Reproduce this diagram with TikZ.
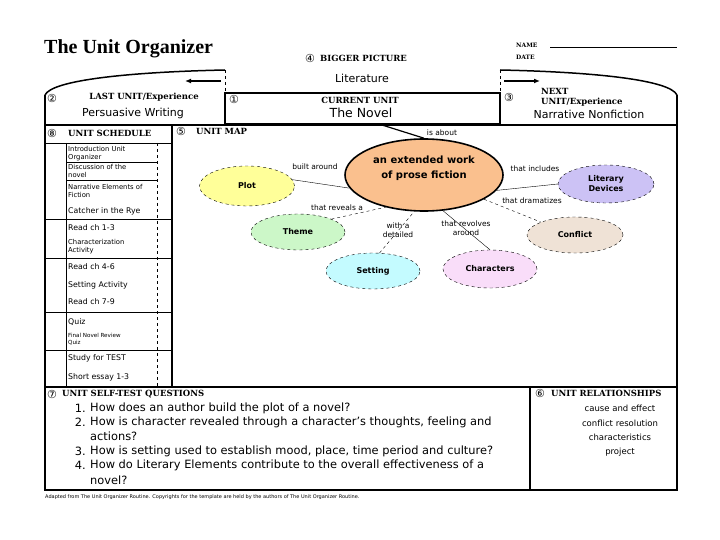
\documentclass[tikz,border=0pt]{standalone}
\usepackage{fontspec}
\setmainfont{Liberation Serif}
\setsansfont{DejaVu Sans}
\newfontfamily\numfont{DejaVu Sans}
\newfontfamily\headfont{DejaVu Serif}
\usetikzlibrary{shapes.geometric,arrows.meta}

\definecolor{mainorange}{HTML}{FAC08E}
\definecolor{plotyellow}{HTML}{FFFF99}
\definecolor{themegreen}{HTML}{CCF7C8}
\definecolor{settingcyan}{HTML}{C4FBFF}
\definecolor{charpink}{HTML}{F9DDF9}
\definecolor{devlavender}{HTML}{CCC2F5}
\definecolor{conflictbeige}{HTML}{EFE2D6}

\tikzset{
  head/.style={font=\headfont\bfseries\fontsize{8.5}{10}\selectfont, inner sep=0pt},
  circnum/.style={font=\numfont\fontsize{11}{12}\selectfont, inner sep=0pt, anchor=west},
  unittext/.style={font=\sffamily\fontsize{11}{12}\selectfont, inner sep=0pt},
  mapoval/.style={ellipse, draw, dashed, inner sep=0pt, align=center,
    font=\sffamily\bfseries\fontsize{8}{10}\selectfont},
  linklabel/.style={font=\sffamily\fontsize{7.5}{8.5}\selectfont, inner sep=0.5pt, align=center},
  schedtext/.style={font=\sffamily\fontsize{6.8}{8}\selectfont, anchor=west, align=left, inner sep=0pt},
  schedbig/.style={schedtext, font=\sffamily\fontsize{7.8}{9}\selectfont},
  qtext/.style={font=\sffamily\fontsize{11.4}{13}\selectfont, anchor=west, inner sep=0pt},
  reltext/.style={font=\sffamily\fontsize{8.5}{10}\selectfont, inner sep=0pt},
  frame/.style={line width=1.5pt}
}

\begin{document}
\begin{tikzpicture}[x=1pt,y=-1pt]
    \useasboundingbox (0,0) rectangle (720,540);
    \fill[white] (0,0) rectangle (720,540);

    % heading
    \node[anchor=west, inner sep=0pt, font=\bfseries\fontsize{20}{22}\selectfont] (title) at (44,49) {The Unit Organizer};
    \node[anchor=west, head, font=\headfont\bfseries\fontsize{6}{8}\selectfont] (name) at (516,45) {NAME};
    \draw (550,47) -- (677,47);
    \node[anchor=west, head, font=\headfont\bfseries\fontsize{6}{8}\selectfont] (date) at (516,57) {DATE};
    \node[circnum] (n4) at (305,58) {④};
    \node[head, anchor=west] (bigger) at (320,58) {BIGGER PICTURE};

    % bigger picture banner
    \draw[frame] (45,95) .. controls (52,80) and (130,72) .. (225,70);
    \draw[frame] (500,70) .. controls (595,72) and (670,80) .. (677,95);
    \draw[dashed] (225,70) -- (225,93);
    \draw[dashed] (500,70) -- (500,93);
    \node[unittext] (literature) at (362,78) {Literature};
    \draw[line width=1.2pt, -{Latex[length=6pt,width=5pt]}] (221,81) -- (185,81);
    \draw[line width=1.2pt, -{Latex[length=6pt,width=5pt]}] (504,81) -- (540,81);

    % last, current and next unit
    \node[circnum] (n2) at (47,98) {②};
    \node[head] (last) at (144,97) {LAST UNIT/Experience};
    \node[unittext] (lastunit) at (133,113) {Persuasive Writing};
    \draw[line width=1.8pt] (225,93) rectangle (500,124);
    \node[circnum] (n1) at (229,99) {①};
    \node[head] (current) at (360,100) {CURRENT UNIT};
    \node[unittext, font=\sffamily\fontsize{12.5}{14}\selectfont] (novel) at (361,113) {The Novel};
    \node[circnum] (n3) at (504,97) {③};
    \node[anchor=west, head] (next) at (541,91) {NEXT};
    \node[anchor=west, head] (nextb) at (541,102) {UNIT/Experience};
    \node[unittext] (nextunit) at (589,114) {Narrative Nonfiction};

    % outer frame
    \draw[frame] (45,95) -- (45,490) -- (677,490) -- (677,95);
    \draw[frame] (45,125) -- (677,125);
    \draw[frame] (172,125) -- (172,387);
    \draw[frame] (45,387) -- (677,387);
    \draw[frame] (530,387) -- (530,490);

    % unit schedule
    \node[circnum] (n8) at (47,133) {⑧};
    \node[anchor=west, head] (schedhead) at (68,133) {UNIT SCHEDULE};
    \draw (45,143) -- (172,143);
    \foreach \y in {219,258,312,350}
        \draw (45,\y) -- (172,\y);
    \foreach \y in {162,180}
        \draw (66,\y) -- (157,\y);
    \draw (66,143) -- (66,387);
    \draw[dashed] (157,143) -- (157,387);
    \foreach \y/\txt in {154/{Introduction Unit\\Organizer}, 171/{Discussion of the\\novel},
        191/{Narrative Elements of\\Fiction}, 247/{Characterization\\Activity}}
        \node[schedtext] (sched\y) at (68,\y) {\txt};
    \foreach \y/\txt in {211/{Catcher in the Rye}, 228/{Read ch 1-3}, 267/{Read ch 4-6},
        285/{Setting Activity}, 302/{Read ch 7-9}, 322/{Quiz}, 358/{Study for TEST}, 377/{Short essay 1-3}}
        \node[schedbig] (sched\y) at (68,\y) {\txt};
    \node[schedtext, font=\sffamily\fontsize{5.6}{7}\selectfont] (sched340) at (68,339) {Final Novel Review\\Quiz};

    % unit map
    \node[circnum] (n5) at (176,131) {⑤};
    \node[anchor=west, head] (maphead) at (196,131) {UNIT MAP};
    \node[ellipse, draw, line width=1.6pt, fill=mainorange, inner sep=0pt,
        minimum width=158pt, minimum height=72pt] (main) at (424,175) {};
    \node[align=center, inner sep=0pt, font=\sffamily\bfseries\fontsize{10}{15}\selectfont] (maintext) at (424,168) {an extended work\\of prose fiction};
    \node[mapoval, fill=plotyellow, minimum width=95pt, minimum height=40pt] (plot) at (247,186) {Plot};
    \node[mapoval, fill=themegreen, minimum width=94pt, minimum height=36pt] (theme) at (298,232) {Theme};
    \node[mapoval, fill=settingcyan, minimum width=94pt, minimum height=36pt] (setting) at (373,271) {Setting};
    \node[mapoval, fill=charpink, minimum width=94pt, minimum height=38pt] (characters) at (490,269) {Characters};
    \node[mapoval, fill=devlavender, minimum width=96pt, minimum height=38pt] (devices) at (606,184) {Literary\\Devices};
    \node[mapoval, fill=conflictbeige, minimum width=96pt, minimum height=36pt] (conflict) at (575,235) {Conflict};

    \coordinate (aboutstart) at (382,125);
    \draw[line width=1.2pt] (aboutstart) -- (main.north);
    \node[linklabel] (about) at (442,133) {is about};
    \draw (plot.8) -- (main.-170);
    \node[linklabel] (built) at (315,167) {built around};
    \draw[dashed] (theme.north east) -- (main.-140);
    \node[linklabel] (reveals) at (337,208) {that reveals a};
    \draw[dashed] (setting.70) -- (main.-105);
    \node[linklabel] (detailed) at (398,230) {with a\\detailed};
    \draw (main.-62) -- (characters.north);
    \node[linklabel] (revolves) at (466,228) {that revolves\\around};
    \draw (main.-12) -- (devices.west);
    \node[linklabel] (includes) at (535,169) {that includes};
    \draw[dashed] (main.-22) -- (conflict.north west);
    \node[linklabel] (dramatizes) at (532,201) {that dramatizes};

    % self-test questions
    \node[circnum] (n7) at (47,394) {⑦};
    \node[anchor=west, head] (qhead) at (62,394) {UNIT SELF-TEST QUESTIONS};
    \foreach \n/\y/\txt in {1/408/{How does an author build the plot of a novel?},
        2/422/{How is character revealed through a character's thoughts, feeling and},
        3/451/{How is setting used to establish mood, place, time period and culture?},
        4/465/{How do Literary Elements contribute to the overall effectiveness of a}} {
        \node[qtext, anchor=east] (qn\n) at (86,\y) {\n.};
        \node[qtext] (q\n) at (90,\y) {\txt};
    }
    \node[qtext] (q2b) at (90,436) {actions?};
    \node[qtext] (q4b) at (90,480) {novel?};

    % unit relationships
    \node[circnum] (n6) at (535,393) {⑥};
    \node[anchor=west, head] (relhead) at (551,393) {UNIT RELATIONSHIPS};
    \foreach \y/\txt in {408/cause and effect, 423/conflict resolution, 437/characteristics, 452/project}
        \node[reltext] (rel\y) at (620,\y) {\txt};

    % footer
    \node[anchor=west, inner sep=0pt, font=\sffamily\fontsize{5}{6}\selectfont] (footer) at (45,497)
        {Adapted from The Unit Organizer Routine. Copyrights for the template are held by the authors of The Unit Organizer Routine.};
\end{tikzpicture}
\end{document}
